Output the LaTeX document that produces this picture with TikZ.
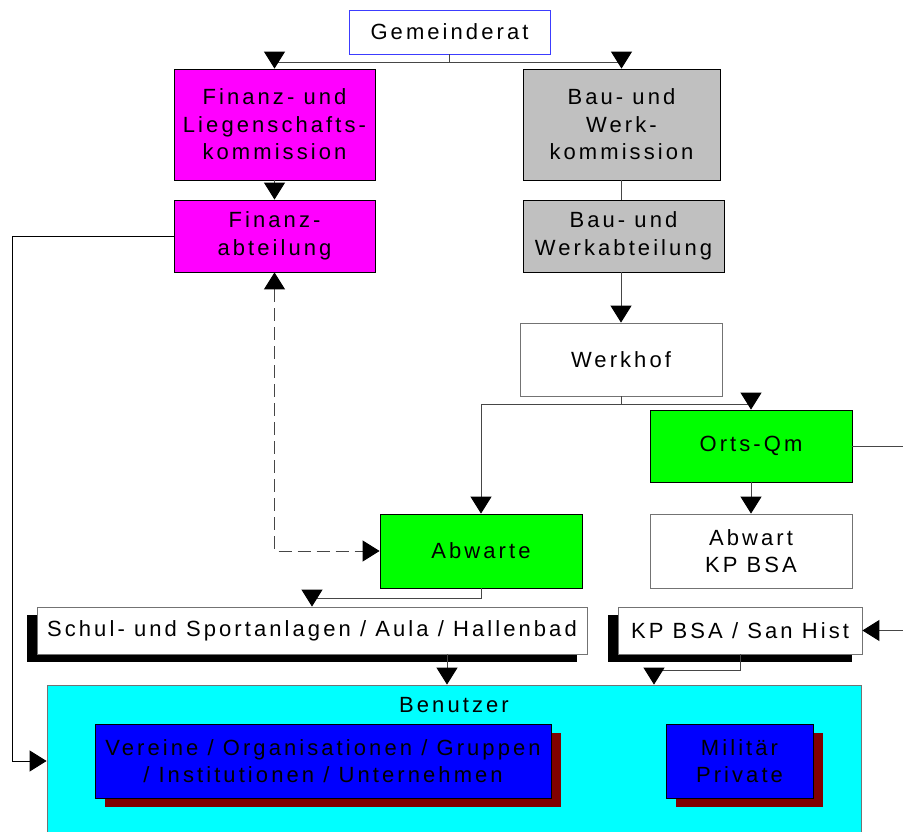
\documentclass[tikz,border=0pt]{standalone}
\usepackage{fontspec}
\setmainfont{Liberation Sans}[LetterSpace=14]
\usetikzlibrary{arrows.meta,shadows}
\definecolor{magbox}{RGB}{255,0,255}
\definecolor{graybox}{RGB}{192,192,192}
\definecolor{greenbox}{RGB}{0,255,0}
\definecolor{cyanbox}{RGB}{0,255,255}
\definecolor{bluebox}{RGB}{0,0,255}
\definecolor{darkred}{RGB}{128,0,0}
\definecolor{grblue}{RGB}{60,60,255}
\definecolor{linec}{RGB}{70,70,70}
\tikzset{
  box/.style={draw=black, line width=0.8pt, inner sep=0pt, align=center,
    font=\fontsize{22}{27.5}\selectfont},
  whitebox/.style={box, draw=black!55, fill=white},
  conn/.style={draw=linec, line width=1pt},
  tip/.tip={Triangle[length=17pt,width=21pt,color=black,fill=black]},
  arr/.style={conn, -tip},
  blkshadow/.style={drop shadow={shadow xshift=-10pt, shadow yshift=-8pt, fill=black, opacity=1}},
  redshadow/.style={drop shadow={shadow xshift=10pt, shadow yshift=-9pt, fill=darkred, opacity=1}},
}
\begin{document}
\begin{tikzpicture}[x=1pt,y=-1pt]
\useasboundingbox (0,0) rectangle (903,832);
\clip (0,0) rectangle (903,832);
% nodes
\node[whitebox, draw=grblue, minimum width=201pt, minimum height=44pt] (gr) at (449.5,32) {Gemeinderat};
\node[box, fill=magbox, minimum width=201pt, minimum height=111pt] (flk) at (274.5,124.5) {Finanz- und\\Liegenschafts-\\kommission};
\node[box, fill=magbox, minimum width=201pt, minimum height=72pt] (fa) at (274.5,236) {Finanz-\\abteilung};
\node[box, fill=graybox, minimum width=197pt, minimum height=111pt] (bwk) at (621.5,124.5) {Bau- und\\Werk-\\kommission};
\node[box, fill=graybox, minimum width=201pt, minimum height=72pt] (bwa) at (623.5,236) {Bau- und\\Werkabteilung};
\node[whitebox, minimum width=202pt, minimum height=73pt] (wh) at (621,359.5) {Werkhof};
\node[box, fill=greenbox, minimum width=202pt, minimum height=72pt] (oq) at (751,446) {Orts-Qm};
\node[whitebox, minimum width=202pt, minimum height=74pt] (ak) at (751,551) {Abwart\\KP BSA};
\node[box, fill=greenbox, minimum width=202pt, minimum height=74pt] (aw) at (481,551) {Abwarte};
\node[whitebox, blkshadow, minimum width=550pt, minimum height=47pt] (ssa) at (312,630.5) {Schul- und Sportanlagen / Aula / Hallenbad};
\node[whitebox, blkshadow, minimum width=244pt, minimum height=47pt] (kp) at (740,630.5) {KP BSA / San Hist};
\node[box, draw=black!55, fill=cyanbox, minimum width=814pt, minimum height=152pt] (ben) at (454,761) {};
\node[font=\fontsize{22}{27.5}\selectfont, inner sep=0pt] (benl) at (454,705) {Benutzer};
\node[box, fill=bluebox, redshadow, minimum width=456pt, minimum height=74pt] (ver) at (323,761) {Vereine / Organisationen / Gruppen\\/ Institutionen / Unternehmen};
\node[box, fill=bluebox, redshadow, minimum width=147pt, minimum height=74pt] (mil) at (739.5,761) {Militär\\Private};
% junctions and edge points
\coordinate (j1) at (449.5,63);
\coordinate (j2) at (621,404);
\coordinate (e1) at (904,446);
\coordinate (e2) at (904,630.5);
% connectors
\draw[conn] (gr.south) -- (j1);
\draw[arr] (j1) -| (flk.north);
\draw[arr] (j1) -| (bwk.north);
\draw[arr] (flk.south) -- (fa.north);
\draw[conn] (bwk.south) -- (bwk.south |- bwa.north);
\draw[arr] (wh.north |- bwa.south) -- (wh.north);
\draw[conn] (wh.south) -- (j2);
\draw[arr] (j2) -| (oq.north);
\draw[arr] (j2) -| (aw.north);
\draw[arr] (oq.south) -- (ak.north);
\draw[conn] (oq.east) -- (e1);
\draw[arr] (e2) -- (kp.east);
\draw[arr] (aw.south) -- ++(0,10) -| (ssa.north);
\draw[arr] ([xshift=135pt]ssa.south) -- ([xshift=-7pt]ben.north);
\draw[arr] (kp.south) -- ++(0,16) -| ([xshift=200pt]ben.north);
\draw[conn, draw=black, -tip] (fa.west) -- (12,236) |- (ben.west);
\draw[conn, dash pattern=on 13pt off 6pt, tip-tip] (fa.south) |- (aw.west);
\end{tikzpicture}
\end{document}
